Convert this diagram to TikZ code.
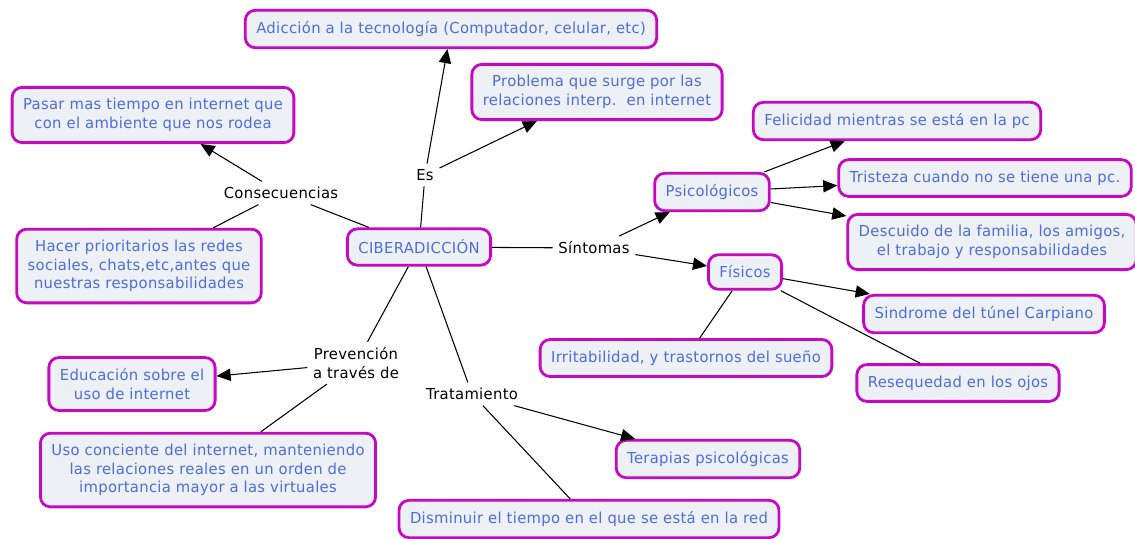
\documentclass[tikz,border=0pt]{standalone}
\usepackage{fontspec}
\setmainfont{DejaVu Sans}[FakeStretch=0.98,LetterSpace=2]
\usepackage{tikz}
\usetikzlibrary{arrows.meta}

\definecolor{conceptline}{RGB}{196,8,196}
\definecolor{conceptfill}{RGB}{237,241,246}
\definecolor{concepttext}{RGB}{78,108,222}

\tikzset{
  concept/.style={draw=conceptline, line width=1.6pt, rounded corners=0.2cm,
    fill=conceptfill, text=concepttext, align=center,
    inner xsep=0.22cm, inner ysep=6.3pt,
    font=\fontsize{8.6}{10.5}\selectfont},
  linkword/.style={align=center, inner sep=3pt, text=black,
    font=\fontsize{8.6}{10.5}\selectfont}
}

\begin{document}
\begin{tikzpicture}[semithick, ->, >={Triangle[length=8pt,width=7pt]}]
  \useasboundingbox (0,0) rectangle (22.7,-10.76);
  % concepts
  \node [concept] (cibera) at ( 8.38,-4.94) {CIBERADICCIÓN};
  \node [concept] (adic)   at ( 9.02,-0.58) {Adicción a la tecnología (Computador, celular, etc)};
  \node [concept] (probl)  at (11.94,-1.84) {Problema que surge por las\\relaciones interp.\ \ en internet};
  \node [concept] (pasar)  at ( 3.06,-2.30) {Pasar mas tiempo en internet que\\con el ambiente que nos rodea};
  \node [concept] (hacer)  at ( 2.78,-5.32) {Hacer prioritarios las redes\\sociales, chats,etc,antes que\\nuestras responsabilidades};
  \node [concept] (psico)  at (14.24,-3.84) {Psicológicos};
  \node [concept] (felic)  at (17.94,-2.42) {Felicidad mientras se está en la pc};
  \node [concept] (trist)  at (19.70,-3.56) {Tristeza cuando no se tiene una pc.};
  \node [concept] (descu)  at (19.84,-4.84) {Descuido de la familia, los amigos,\\el trabajo y responsabilidades};
  \node [concept] (fisic)  at (14.90,-5.44) {Físicos};
  \node [concept] (sindr)  at (19.68,-6.28) {Sindrome del túnel Carpiano};
  \node [concept] (irrit)  at (13.72,-7.16) {Irritabilidad, y trastornos del sueño};
  \node [concept] (reseq)  at (19.16,-7.66) {Resequedad en los ojos};
  \node [concept] (educ)   at ( 2.64,-7.68) {Educación sobre el\\uso de internet};
  \node [concept] (uso)    at ( 4.16,-9.40) {Uso conciente del internet, manteniendo\\las relaciones reales en un orden de\\importancia mayor a las virtuales};
  \node [concept] (terap)  at (14.16,-9.18) {Terapias psicológicas};
  \node [concept] (dism)   at (11.78,-10.38) {Disminuir el tiempo en el que se está en la red};
  % linking words
  \node [linkword] (es)    at ( 8.50,-3.50) {Es};
  \node [linkword] (conse) at ( 5.62,-3.86) {Consecuencias};
  \node [linkword] (sint)  at (11.88,-4.96) {Síntomas};
  \node [linkword] (prev)  at ( 7.12,-7.26) {Prevención\\a través de};
  \node [linkword] (trat)  at ( 9.44,-7.88) {Tratamiento};
  % connections
  \path (cibera) edge [-] (es);
  \path (es) edge (adic);
  \path (es) edge (probl);
  \path (cibera) edge [-] (conse);
  \path (conse) edge (pasar);
  \path (conse) edge [-] (hacer);
  \path (cibera) edge [-] (sint);
  \path (sint) edge (psico);
  \path (sint) edge (fisic);
  \path (psico) edge (felic);
  \path (psico) edge (trist);
  \path (psico) edge (descu);
  \path (fisic) edge (sindr);
  \path (fisic) edge [-] (irrit);
  \path (fisic) edge [-] (reseq);
  \path (cibera) edge [-] (prev);
  \path (prev) edge (educ);
  \path (prev) edge [-] (uso);
  \path (cibera) edge [-] (trat);
  \path (trat) edge (terap);
  \path (trat) edge [-] (dism);
\end{tikzpicture}
\end{document}
